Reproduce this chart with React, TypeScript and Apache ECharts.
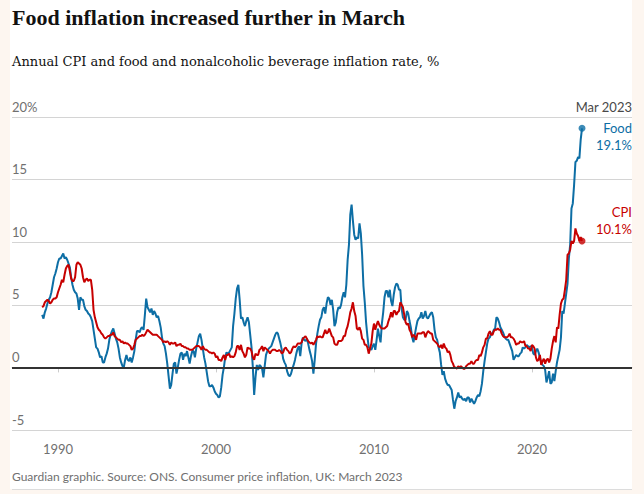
import React, { useEffect, useRef } from "react";
import * as echarts from "echarts";

const titleText = "Food inflation increased further in March";
const subtitleText = "Annual CPI and food and nonalcoholic beverage inflation rate, %";
const footerText = "Guardian graphic. Source: ONS. Consumer price inflation, UK: March 2023";
const latestLabel = "Mar 2023";
const startYear = 1989;
const yearTicks = [1990, 2000, 2010, 2020];

// Monthly annual CPI inflation rate, %, Jan 1989 - Mar 2023
const cpiRate = [
  4.8, 4.9, 5.2, 5.3, 5.4, 5.3, 5.1, 5.2, 5.4, 5.5, 5.5, 5.6,
  6.0, 6.3, 6.6, 7.0, 6.8, 7.4, 7.9, 8.1, 8.2, 7.7, 7.1, 6.9,
  6.9, 7.2, 8.2, 8.4, 8.3, 8.2, 7.9, 7.2, 6.8, 7.0, 7.1, 6.9,
  7.0, 7.0, 6.2, 4.6, 4.0, 3.6, 3.2, 3.0, 2.9, 2.7, 2.6, 2.4,
  2.3, 2.4, 2.5, 2.5, 2.6, 2.6, 2.8, 2.5, 2.4, 2.3, 2.2, 2.2,
  2.0, 2.1, 1.9, 2.0, 1.9, 1.9, 1.8, 1.7, 1.4, 1.5, 1.8, 2.2,
  2.3, 2.4, 2.5, 2.5, 2.6, 2.5, 2.6, 2.8, 3.0, 2.9, 2.8, 2.7,
  2.6, 2.6, 2.6, 2.6, 2.5, 2.4, 2.3, 2.2, 2.0, 2.1, 2.0, 2.1,
  2.0, 1.8, 2.0, 1.9, 1.9, 2.0, 1.7, 1.8, 1.8, 1.9, 1.7, 1.7,
  1.6, 1.6, 1.5, 1.5, 1.4, 1.4, 1.4, 1.5, 1.6, 1.7, 1.7, 1.7,
  1.6, 1.4, 1.7, 1.5, 1.4, 1.4, 1.3, 1.2, 1.2, 1.1, 1.2, 1.1,
  0.8, 0.9, 0.6, 0.6, 0.5, 0.8, 1.0, 0.6, 1.0, 1.0, 1.1, 0.8,
  0.9, 0.8, 0.9, 1.2, 1.7, 1.7, 1.4, 1.8, 1.3, 1.1, 0.8, 1.0,
  1.6, 1.5, 1.5, 1.3, 0.8, 0.6, 1.1, 1.0, 1.0, 1.4, 1.5, 1.7,
  1.3, 1.6, 1.5, 1.4, 1.3, 1.1, 1.3, 1.4, 1.4, 1.4, 1.3, 1.3,
  1.4, 1.3, 1.1, 1.2, 1.5, 1.6, 1.4, 1.3, 1.1, 1.2, 1.5, 1.7,
  1.6, 1.7, 1.9, 1.9, 1.9, 2.0, 2.3, 2.4, 2.5, 2.3, 2.1, 2.0,
  1.9, 2.0, 1.8, 2.0, 2.2, 2.5, 2.4, 2.5, 2.4, 2.4, 2.7, 3.0,
  2.7, 2.8, 3.1, 2.8, 2.5, 2.4, 1.9, 1.8, 1.8, 2.1, 2.1, 2.1,
  2.2, 2.5, 2.5, 3.0, 3.3, 3.8, 4.4, 4.7, 5.2, 4.5, 4.1, 3.1,
  3.0, 3.2, 2.9, 2.3, 2.2, 1.8, 1.8, 1.6, 1.1, 1.5, 1.9, 2.9,
  3.5, 3.0, 3.4, 3.7, 3.4, 3.2, 3.1, 3.1, 3.1, 3.2, 3.3, 3.7,
  4.0, 4.4, 4.0, 4.5, 4.5, 4.2, 4.4, 4.5, 5.2, 5.0, 4.8, 4.2,
  3.6, 3.4, 3.5, 3.0, 2.8, 2.4, 2.6, 2.5, 2.2, 2.7, 2.7, 2.7,
  2.7, 2.8, 2.8, 2.4, 2.7, 2.9, 2.8, 2.7, 2.7, 2.2, 2.1, 2.0,
  1.9, 1.7, 1.6, 1.8, 1.5, 1.9, 1.6, 1.5, 1.2, 1.3, 1.0, 0.5,
  0.3, 0.0, 0.0, -0.1, 0.1, 0.0, 0.1, 0.0, -0.1, -0.1, 0.1, 0.2,
  0.3, 0.3, 0.5, 0.3, 0.3, 0.5, 0.6, 0.6, 1.0, 0.9, 1.2, 1.6,
  1.8, 2.3, 2.3, 2.7, 2.9, 2.6, 2.6, 2.9, 3.0, 3.0, 3.1, 3.0,
  3.0, 2.7, 2.5, 2.4, 2.4, 2.4, 2.5, 2.7, 2.4, 2.4, 2.3, 2.1,
  1.8, 1.9, 1.9, 2.1, 2.0, 2.0, 2.1, 1.7, 1.7, 1.5, 1.5, 1.3,
  1.8, 1.7, 1.5, 0.8, 0.5, 0.6, 1.0, 0.2, 0.5, 0.7, 0.3, 0.6,
  0.7, 0.4, 0.7, 1.5, 2.1, 2.5, 2.0, 3.2, 3.1, 4.2, 5.1, 5.4,
  5.5, 6.2, 7.0, 9.0, 9.1, 9.4, 10.1, 9.9, 10.1, 11.1, 10.7, 10.5,
  10.1, 10.4, 10.1,
];

// Monthly annual food and non-alcoholic beverages inflation rate, %, Jan 1989 - Mar 2023
const foodRate = [
  4.2, 3.9, 4.4, 4.7, 5.1, 5.4, 5.6, 6.0, 6.6, 7.2, 7.5, 7.9,
  8.4, 8.7, 8.7, 8.9, 9.1, 8.7, 8.8, 8.6, 8.3, 8.0, 7.2, 6.6,
  6.2, 6.0, 5.9, 5.5, 4.6, 5.6, 5.4, 5.4, 4.9, 4.6, 4.5, 4.3,
  4.2, 4.0, 3.7, 3.0, 2.3, 1.6, 1.5, 1.2, 0.8, 0.9, 0.4, 0.4,
  0.8, 1.1, 1.5, 2.2, 2.6, 2.9, 3.1, 2.7, 2.3, 2.0, 1.5, 0.8,
  0.4, 0.1, 0.0, 0.6, 1.0, 0.6, 0.5, 0.8, 0.4, 0.8, 1.3, 2.2,
  2.9, 2.9, 2.8, 3.1, 3.2, 3.0, 4.2, 5.5, 4.8, 4.6, 4.4, 4.7,
  4.2, 4.5, 4.3, 4.0, 4.1, 3.7, 3.2, 2.4, 1.9, 1.7, 1.1, 0.3,
  -0.7, -1.7, -1.4, -0.5, 0.3, 0.4, -0.5, 0.0, 0.6, 1.1, 1.2, 0.6,
  1.1, 0.9, 1.3, 0.8, 0.3, 0.9, 1.3, 1.3, 0.8, 1.5, 2.0, 2.5,
  2.7, 2.2, 1.5, 0.8, 0.3, -0.4, -1.1, -1.5, -1.5, -1.4, -1.6, -1.9,
  -2.1, -2.2, -2.4, -2.3, -1.6, -0.6, 0.0, 0.8, 1.2, 1.1, 1.2, 1.4,
  1.6, 3.3, 4.3, 5.5, 6.3, 6.6, 5.4, 3.9, 4.0, 3.6, 3.3, 3.7,
  4.0, 3.6, 2.6, 1.6, 0.0, -2.2, -0.8, 0.2, -0.2, 0.2, 0.1, -0.1,
  -0.8, 0.1, 1.0, 1.3, 1.5, 1.6, 1.7, 2.0, 2.3, 2.6, 2.8, 2.7,
  2.3, 1.9, 1.4, 0.7, 0.4, 0.2, -0.3, -0.6, -0.7, -0.5, -0.1, 0.2,
  0.6, 1.1, 1.5, 1.7, 0.9, 1.9, 2.4, 2.2, 2.1, 2.3, 1.9, 1.4,
  1.0, 0.5, -0.5, 0.6, 1.9, 2.7, 3.3, 3.8, 4.0, 4.6, 4.8, 4.3,
  5.1, 5.6, 5.5, 5.0, 5.4, 4.6, 3.3, 3.6, 4.4, 4.8, 4.7, 5.0,
  5.6, 6.0, 5.6, 6.6, 8.6, 9.8, 12.2, 13.0, 11.7, 10.6, 10.2, 10.4,
  10.3, 11.5, 10.7, 9.0, 6.5, 5.2, 3.6, 2.5, 1.6, 1.5, 1.4, 1.7,
  1.9, 1.4, 2.2, 3.1, 2.5, 2.0, 3.5, 4.4, 5.6, 6.1, 6.1, 5.6,
  6.2, 5.3, 4.9, 5.8, 6.4, 6.7, 6.6, 6.2, 6.2, 4.7, 4.0, 3.8,
  3.8, 4.5, 4.3, 3.7, 3.2, 2.4, 2.0, 2.6, 3.2, 3.7, 3.9, 4.0,
  4.4, 3.9, 4.1, 4.5, 4.0, 3.9, 4.1, 4.3, 4.4, 4.0, 3.0, 2.4,
  2.2, 1.6, 1.2, 0.2, -0.6, -0.3, -0.9, -1.2, -1.4, -1.4, -1.6, -1.8,
  -2.6, -3.3, -2.7, -2.4, -2.0, -2.4, -2.3, -2.5, -2.6, -2.5, -2.7, -2.4,
  -2.4, -2.8, -2.5, -2.7, -2.9, -2.7, -2.4, -2.2, -2.3, -1.9, -1.3, -0.3,
  0.5, 1.2, 1.9, 2.3, 2.4, 2.7, 2.7, 3.0, 3.1, 4.0, 3.9, 3.6,
  3.2, 3.0, 2.8, 2.5, 2.3, 2.2, 2.2, 1.9, 1.6, 1.3, 0.6, 0.8,
  1.0, 0.9, 0.9, 1.1, 1.2, 1.6, 1.5, 1.6, 1.8, 1.7, 1.6, 1.7,
  1.6, 1.1, 1.0, 1.3, 1.5, 1.2, 0.8, 0.4, 0.2, 0.1, -0.2, -1.2,
  -0.8, -0.3, -1.3, -1.2, -0.5, -1.1, -0.3, 0.4, 0.9, 1.4, 2.4, 4.5,
  4.3, 5.1, 5.9, 6.7, 8.7, 9.8, 12.7, 13.1, 14.6, 16.4, 16.5, 16.8,
  16.7, 18.2, 19.1,
];

const BLUE = "#0d6ea5";
const RED = "#c70000";
const GREY = "#707070";
const SANS = "Lato, 'Open Sans', sans-serif";
const SERIF = "'DejaVu Serif', serif";
const TITLE_SERIF = "'Liberation Serif', serif";

const toPoints = (arr: number[]) => arr.map((v, i) => [startYear + i / 12, v]);

export default function App() {
  const ref = useRef<HTMLDivElement>(null);

  useEffect(() => {
    if (!ref.current) return;
    const chart = echarts.init(ref.current, undefined, { renderer: "svg" });
    const food = toPoints(foodRate);
    const cpi = toPoints(cpiRate);
    const lastFood = food[food.length - 1];
    const lastCpi = cpi[cpi.length - 1];

    const option: any = {
      animation: false,
      textStyle: { fontFamily: SANS },
      grid: { left: 12, right: 12, top: 117, bottom: 64 },
      xAxis: {
        type: "value",
        min: 1987.09,
        max: 2026.33,
        axisLine: { show: true, lineStyle: { color: "#d4d4d4", width: 1 } },
        axisTick: {
          show: true,
          customValues: yearTicks,
          length: 5,
          lineStyle: { color: "#cccccc", width: 1 },
        },
        axisLabel: {
          customValues: yearTicks,
          color: GREY,
          fontSize: 13,
          margin: 12,
          formatter: (v: number) => String(v),
        },
        splitLine: { show: false },
      },
      yAxis: {
        type: "value",
        min: -5,
        max: 20,
        interval: 5,
        axisLine: { show: false },
        axisTick: { show: false },
        splitLine: { lineStyle: { color: "#d4d4d4", width: 1 } },
        axisLabel: {
          inside: true,
          margin: 0,
          align: "left",
          verticalAlign: "bottom",
          padding: [0, 0, 4, 0],
          color: GREY,
          fontSize: 13,
          formatter: (v: number) => (v === 20 ? "20%" : String(v)),
        },
      },
      series: [
        {
          type: "line",
          data: food,
          showSymbol: false,
          z: 3,
          lineStyle: { color: BLUE, width: 2 },
          itemStyle: { color: BLUE },
          markLine: {
            silent: true,
            symbol: ["none", "none"],
            label: { show: false },
            lineStyle: { color: "#333333", width: 2, type: "solid" },
            data: [{ yAxis: 0 }],
          },
        },
        {
          type: "line",
          data: cpi,
          showSymbol: false,
          z: 4,
          lineStyle: { color: RED, width: 2 },
          itemStyle: { color: RED },
        },
        {
          type: "scatter",
          data: [lastFood],
          symbolSize: 7,
          z: 5,
          itemStyle: { color: BLUE },
        },
        {
          type: "scatter",
          data: [lastCpi],
          symbolSize: 7,
          z: 5,
          itemStyle: { color: RED },
        },
      ],
      graphic: [
        {
          type: "text",
          x: 12,
          y: 17,
          style: {
            text: titleText,
            font: `bold 22px ${TITLE_SERIF}`,
            fill: "#121212",
            verticalAlign: "middle",
          },
        },
        {
          type: "text",
          x: 12,
          y: 61,
          style: {
            text: subtitleText,
            font: `13px ${SERIF}`,
            fill: "#121212",
            verticalAlign: "middle",
          },
        },
        {
          type: "text",
          x: 632,
          y: 107,
          style: { text: latestLabel, font: `13px ${SANS}`, fill: "#494949", align: "right", verticalAlign: "middle" },
        },
        {
          type: "text",
          x: 632,
          y: 128,
          style: { text: "Food", font: `13px ${SANS}`, fill: BLUE, align: "right", verticalAlign: "middle" },
        },
        {
          type: "text",
          x: 632,
          y: 145,
          style: { text: `${lastFood[1].toFixed(1)}%`, font: `13px ${SANS}`, fill: BLUE, align: "right", verticalAlign: "middle" },
        },
        {
          type: "text",
          x: 632,
          y: 212,
          style: { text: "CPI", font: `13px ${SANS}`, fill: RED, align: "right", verticalAlign: "middle" },
        },
        {
          type: "text",
          x: 632,
          y: 229,
          style: { text: `${lastCpi[1].toFixed(1)}%`, font: `13px ${SANS}`, fill: RED, align: "right", verticalAlign: "middle" },
        },
        {
          type: "text",
          x: 12,
          y: 476,
          style: { text: footerText, font: `12px ${SANS}`, fill: GREY, verticalAlign: "middle" },
        },
        {
          type: "line",
          shape: { x1: 12, y1: 489.5, x2: 632, y2: 489.5 },
          style: { stroke: "#dcdcdc", lineWidth: 1 },
        },
      ],
    };
    chart.setOption(option);
    return () => chart.dispose();
  }, []);

  return (
    <div style={{ position: "fixed", left: 0, top: 0, width: 644, height: 494, background: "#fdf6f0" }}>
      <div style={{ position: "absolute", left: 10, top: 0, width: 622, height: 489, background: "#ffffff" }} />
      <div ref={ref} style={{ position: "absolute", left: 0, top: 0, width: 644, height: 494 }} />
    </div>
  );
}
